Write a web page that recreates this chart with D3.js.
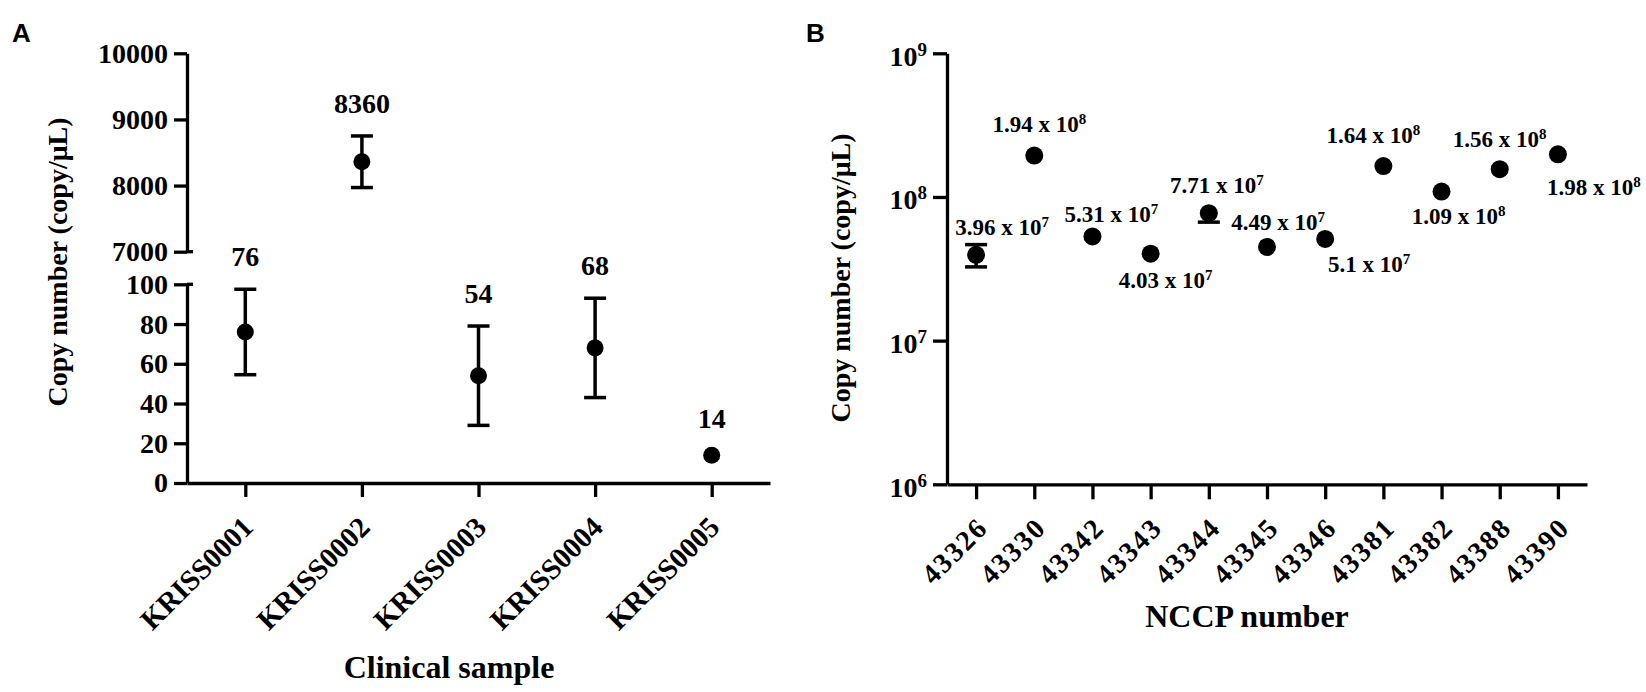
<!DOCTYPE html>
<html>
<head>
<meta charset="utf-8">
<script src="https://cdn.jsdelivr.net/npm/d3@7"></script>
<style>
  body { margin: 0; background: #fff; }
  svg text { fill: #000; }
</style>
</head>
<body>
<svg id="chart" width="1646" height="692"></svg>
<script>
// ---- data ----
// panel A : clinical samples, copy/uL (mean, SD)
const samples = ["KRISS0001", "KRISS0002", "KRISS0003", "KRISS0004", "KRISS0005"];
const sampleMean = [76, 8360, 54, 68, 14];
const sampleSD = [21.5, 390, 25, 25, 1];
const lowTicks = [0, 20, 40, 60, 80, 100];
const highTicks = [7000, 8000, 9000, 10000];

// panel B : NCCP strains, copy/uL (mean, SD)
const nccp = ["43326", "43330", "43342", "43343", "43344", "43345", "43346", "43381", "43382", "43388", "43390"];
const nccpMean = [3.96e7, 1.94e8, 5.31e7, 4.03e7, 7.71e7, 4.49e7, 5.1e7, 1.64e8, 1.09e8, 1.56e8, 1.98e8];
const nccpSD = [0.7e7, 0.1e8, 0.2e7, 0.15e7, 1.03e7, 0.2e7, 0.2e7, 0.1e8, 0.05e8, 0.1e8, 0.1e8];
const logTicks = [1e6, 1e7, 1e8, 1e9];

// label placement for panel B (offset from the point, px)
const bLabelDx = [26, 5, 19, 15, 8, 11, 44, -10, 17, 0, 36];
const bLabelDy = [-20, -24, -14, 34, -20, -17, 33, -23, 32, -22, 41];

const serif = "'Liberation Serif', 'Times New Roman', serif";
const sans = "'Liberation Sans', Arial, sans-serif";
const svg = d3.select("#chart");

function styleAxis(g) {
  g.attr("font-family", serif).attr("font-weight", "bold").attr("font-size", 28);
  g.select(".domain").attr("stroke", "#000").attr("stroke-width", 3.3);
  g.selectAll(".tick line").attr("stroke", "#000").attr("stroke-width", 3.3);
  g.selectAll(".tick text").attr("fill", "#000");
}

function errorBars(g, xs, ys, data, r) {
  data.forEach(d => {
    const cx = xs(d.name), cy = ys(d.mean);
    // each half is drawn behind the symbol, and left out when it stays inside it
    [ys(d.mean + d.sd), ys(d.mean - d.sd)].forEach(y => {
      if (Math.abs(y - cy) <= r - 0.5) return;
      g.append("line").attr("x1", cx).attr("x2", cx).attr("y1", cy).attr("y2", y)
        .attr("stroke", "#000").attr("stroke-width", 3.5);
      g.append("line").attr("x1", cx - 11).attr("x2", cx + 11).attr("y1", y).attr("y2", y)
        .attr("stroke", "#000").attr("stroke-width", 3.5);
    });
    g.append("circle").attr("cx", cx).attr("cy", cy).attr("r", r).attr("fill", "#000");
  });
}

////////////////////////////////////////////////////////////
// Panel A
////////////////////////////////////////////////////////////
const aLeft = 187, aRight = 770, aBottom = 483;

const xA = d3.scalePoint().domain(samples).range([aLeft, aRight]).padding(0.5);
const yLow = d3.scaleLinear().domain([0, 100]).range([aBottom, 284.3]);
const yHigh = d3.scaleLinear().domain([7000, 10000]).range([251.7, 53.3]);
const yA = v => v >= 7000 ? yHigh(v) : yLow(v);

const gA = svg.append("g");

gA.append("g").attr("transform", `translate(${aLeft},0)`)
  .call(d3.axisLeft(yLow).tickValues(lowTicks).tickSize(13).tickSizeOuter(0).tickPadding(6).tickFormat(d3.format("d")))
  .call(styleAxis);

gA.append("g").attr("transform", `translate(${aLeft},0)`)
  .call(d3.axisLeft(yHigh).tickValues(highTicks).tickSize(13).tickSizeOuter(0).tickPadding(6).tickFormat(d3.format("d")))
  .call(styleAxis);

// break marks on the split axis
[yHigh(7000), yLow(100)].forEach(y => gA.append("line")
  .attr("x1", aLeft).attr("x2", aLeft + 6).attr("y1", y).attr("y2", y)
  .attr("stroke", "#000").attr("stroke-width", 3.3));

const xAxisA = gA.append("g").attr("transform", `translate(0,${aBottom})`)
  .call(d3.axisBottom(xA).tickSize(14).tickSizeOuter(0))
  .call(styleAxis);
xAxisA.selectAll(".tick text")
  .attr("x", 0).attr("y", 0).attr("dy", 0)
  .attr("text-anchor", "end")
  .attr("font-size", 29)
  .attr("transform", "translate(9,46) rotate(-45)");

const dataA = samples.map((s, i) => ({ name: s, mean: sampleMean[i], sd: sampleSD[i] }));
errorBars(gA.append("g"), xA, yA, dataA, 8.5);

gA.append("g").selectAll("text")
  .data(dataA)
  .join("text")
  .attr("x", d => xA(d.name))
  .attr("y", d => Math.min(yA(d.mean + d.sd), yA(d.mean) - 4) - 23)
  .attr("text-anchor", "middle")
  .attr("font-family", serif).attr("font-weight", "bold").attr("font-size", 28)
  .text(d => d.mean);

gA.append("text")
  .attr("transform", "translate(57,262) rotate(-90)")
  .attr("text-anchor", "middle").attr("dominant-baseline", "central")
  .attr("font-family", serif).attr("font-weight", "bold").attr("font-size", 28)
  .text("Copy number (copy/μL)");

gA.append("text")
  .attr("x", 449).attr("y", 678)
  .attr("text-anchor", "middle")
  .attr("font-family", serif).attr("font-weight", "bold").attr("font-size", 32)
  .text("Clinical sample");

gA.append("text")
  .attr("x", 12).attr("y", 42)
  .attr("font-family", sans).attr("font-weight", "bold").attr("font-size", 26)
  .text("A");

////////////////////////////////////////////////////////////
// Panel B
////////////////////////////////////////////////////////////
const bLeft = 947, bRight = 1587, bBottom = 484.3;

const xB = d3.scalePoint().domain(nccp).range([bLeft, bRight]).padding(0.5);
const yB = d3.scaleLog().domain([1e6, 1e9]).range([bBottom, 53.3]);

const gB = svg.append("g");

const yAxisB = gB.append("g").attr("transform", `translate(${bLeft},0)`)
  .call(d3.axisLeft(yB).tickValues(logTicks).tickSize(14).tickSizeOuter(0).tickFormat(""))
  .call(styleAxis);
yAxisB.selectAll(".tick text").remove();
yAxisB.selectAll(".tick").each(function(d) {
  const t = d3.select(this).append("text")
    .attr("x", -20).attr("y", 12)
    .attr("text-anchor", "end")
    .attr("fill", "#000");
  t.append("tspan").text("10");
  t.append("tspan").attr("dy", -10).attr("font-size", 19).text(Math.round(Math.log10(d)));
});

const xAxisB = gB.append("g").attr("transform", `translate(0,${bBottom})`)
  .call(d3.axisBottom(xB).tickSize(15).tickSizeOuter(0))
  .call(styleAxis);
xAxisB.selectAll(".tick text")
  .attr("x", 0).attr("y", 0).attr("dy", 0)
  .attr("text-anchor", "end")
  .attr("font-size", 28)
  .attr("letter-spacing", 2)
  .attr("transform", "translate(13,45) rotate(-45)");

const dataB = nccp.map((s, i) => ({ name: s, mean: nccpMean[i], sd: nccpSD[i] }));
errorBars(gB.append("g"), xB, yB, dataB, 9);

// value labels "m x 10^e"
dataB.forEach((d, i) => {
  const e = Math.floor(Math.log10(d.mean));
  const m = +(d.mean / Math.pow(10, e)).toPrecision(3);
  const t = gB.append("text")
    .attr("x", xB(d.name) + bLabelDx[i])
    .attr("y", yB(d.mean) + bLabelDy[i])
    .attr("text-anchor", "middle")
    .attr("font-family", serif).attr("font-weight", "bold").attr("font-size", 23);
  t.append("tspan").text(m + " x 10");
  t.append("tspan").attr("dy", -8).attr("font-size", 15).text(e);
});

gB.append("text")
  .attr("transform", "translate(840,278) rotate(-90)")
  .attr("text-anchor", "middle").attr("dominant-baseline", "central")
  .attr("font-family", serif).attr("font-weight", "bold").attr("font-size", 28)
  .text("Copy number (copy/μL)");

gB.append("text")
  .attr("x", 1247).attr("y", 627)
  .attr("text-anchor", "middle")
  .attr("font-family", serif).attr("font-weight", "bold").attr("font-size", 32)
  .text("NCCP number");

gB.append("text")
  .attr("x", 806).attr("y", 42)
  .attr("font-family", sans).attr("font-weight", "bold").attr("font-size", 26)
  .text("B");
</script>
</body>
</html>
